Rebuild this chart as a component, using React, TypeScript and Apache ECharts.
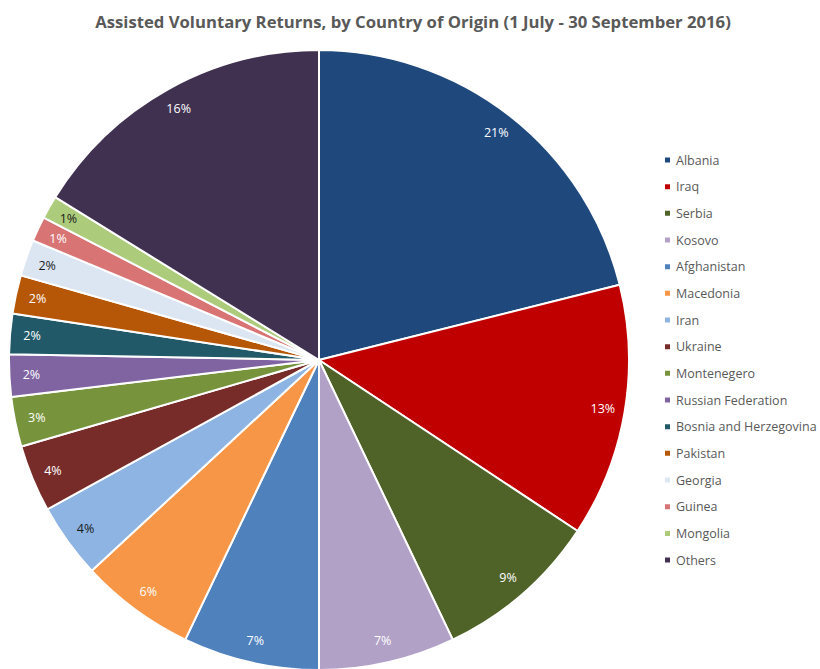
import React, { useEffect, useRef } from "react";
import * as echarts from "echarts";

const countries = [
  "Albania", "Iraq", "Serbia", "Kosovo", "Afghanistan", "Macedonia", "Iran", "Ukraine",
  "Montenegero", "Russian Federation", "Bosnia and Herzegovina", "Pakistan", "Georgia",
  "Guinea", "Mongolia", "Others",
];
const shares = [21.1, 13.2, 8.6, 7.1, 7.1, 6.0, 3.9, 3.5, 2.6, 2.2, 2.1, 2.0, 1.9, 1.3, 1.2, 16.2];
const colors = [
  "#1F497D", "#C00000", "#4F6228", "#B2A1C7", "#4F81BD", "#F79646", "#8DB4E2", "#772C2A",
  "#77933C", "#8064A2", "#215968", "#B65708", "#DCE6F2", "#D87473", "#ADCC7B", "#403151",
];
const labelColors = [
  "#fff", "#fff", "#fff", "#fff", "#fff", "#fff", "#1a1a1a", "#fff",
  "#fff", "#fff", "#fff", "#fff", "#1a1a1a", "#fff", "#1a1a1a", "#fff",
];
const title = "Assisted Voluntary Returns, by Country of Origin (1 July - 30 September 2016)";

export default function App() {
  const ref = useRef<HTMLDivElement>(null);
  useEffect(() => {
    const chart = echarts.init(ref.current!, null, { renderer: "svg" });
    const font = "'Open Sans', 'Noto Sans', sans-serif";
    const data = countries.map((n, i) => ({
      name: n,
      value: shares[i],
      itemStyle: { color: colors[i] },
    }));
    const labelData = countries.map((n, i) => ({
      name: n,
      value: shares[i],
      label: { color: labelColors[i] },
    }));
    chart.setOption({
      animation: false,
      title: {
        text: title,
        left: 408,
        top: 8,
        textAlign: "center",
        textStyle: { fontFamily: font, fontSize: 16.7, fontWeight: "bold", color: "#595959" },
      },
      legend: {
        orient: "vertical",
        left: 658,
        top: 147,
        itemWidth: 7,
        itemHeight: 7,
        itemGap: 10.67,
        icon: "rect",
        data: countries,
        textStyle: { fontFamily: font, fontSize: 12.5, color: "#595959", lineHeight: 16 },
        selectedMode: false,
      },
      series: [
        {
          type: "pie",
          center: [319, 360],
          radius: [0, 310],
          startAngle: 90,
          clockwise: true,
          avoidLabelOverlap: false,
          itemStyle: { borderColor: "#fff", borderWidth: 2 },
          label: { show: false },
          labelLine: { show: false },
          emphasis: { disabled: true },
          data,
        },
        {
          type: "pie",
          center: [319, 360],
          radius: [262, 308],
          startAngle: 90,
          clockwise: true,
          silent: true,
          avoidLabelOverlap: false,
          itemStyle: { color: "rgba(0,0,0,0)", borderWidth: 0 },
          label: {
            show: true,
            position: "inside",
            fontFamily: font,
            fontSize: 12.5,
            formatter: (p: any) => Math.round(p.percent) + "%",
          },
          labelLine: { show: false },
          emphasis: { disabled: true },
          data: labelData,
        },
      ],
    });
    return () => chart.dispose();
  }, []);
  return (
    <div
      ref={ref}
      style={{ position: "fixed", left: 0, top: 0, width: 820, height: 669, background: "#fff" }}
    />
  );
}
